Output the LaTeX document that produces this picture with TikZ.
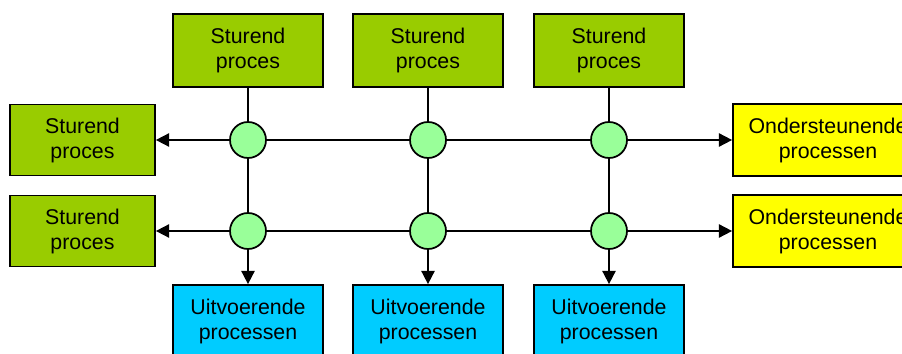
\documentclass[tikz,border=0pt]{standalone}
\usepackage{fontspec}
\setmainfont{Liberation Sans}
\usetikzlibrary{arrows.meta}

\definecolor{stuurgroen}{HTML}{99CC00}
\definecolor{steungeel}{HTML}{FFFF00}
\definecolor{uitvoerblauw}{HTML}{00CCFF}
\definecolor{knoopgroen}{HTML}{99FF99}

\tikzset{
  procbox/.style={draw, line width=1.3pt, align=center, inner sep=0pt,
    font=\fontsize{16}{18.75}\selectfont},
  sturend/.style={procbox, fill=stuurgroen, minimum width=112.5pt, minimum height=54.75pt},
  sturendzij/.style={procbox, fill=stuurgroen, minimum width=108.75pt, minimum height=53.25pt},
  steunend/.style={procbox, fill=steungeel, minimum width=142.5pt, minimum height=54pt},
  uitvoerend/.style={procbox, fill=uitvoerblauw, minimum width=112.5pt, minimum height=54.75pt},
  knoop/.style={circle, draw, line width=1.3pt, fill=knoopgroen, minimum size=27pt, inner sep=0pt},
}

\begin{document}
\begin{tikzpicture}[x=0.75pt,y=0.75pt,>={Triangle[length=10pt,width=10pt]}, line width=1.3pt]
  \clip (0,0) rectangle (902,353);
  \useasboundingbox (0,0) rectangle (902,353);

  % sturende processen boven
  \node[sturend] (s1) at (248,302.5) {Sturend\\proces};
  \node[sturend] (s2) at (428,302.5) {Sturend\\proces};
  \node[sturend, line width=2pt] (s3) at (609,302.5) {Sturend\\proces};

  % sturende processen links
  \node[sturendzij] (l1) at (82.5,213) {Sturend\\proces};
  \node[sturendzij] (l2) at (82.5,122) {Sturend\\proces};

  % ondersteunende processen rechts
  \node[steunend] (o1) at (828,213) {Ondersteunende\\processen};
  \node[steunend] (o2) at (828,122) {Ondersteunende\\processen};

  % uitvoerende processen onder
  \node[uitvoerend] (u1) at (248,31.5) {Uitvoerende\\processen};
  \node[uitvoerend] (u2) at (428,31.5) {Uitvoerende\\processen};
  \node[uitvoerend] (u3) at (609,31.5) {Uitvoerende\\processen};

  % knooppunten
  \foreach \i/\x in {1/248,2/428,3/609} {
    \node[knoop] (k1\i) at (\x,213) {};
    \node[knoop] (k2\i) at (\x,122) {};
  }

  % horizontale lijnen
  \draw[->] (k11) -- (l1);
  \draw (k11) -- (k12) -- (k13);
  \draw[->] (k13) -- (o1);
  \draw[->] (k21) -- (l2);
  \draw (k21) -- (k22) -- (k23);
  \draw[->] (k23) -- (o2);

  % verticale lijnen
  \foreach \i in {1,2,3} {
    \draw (s\i) -- (k1\i);
    \draw (k1\i) -- (k2\i);
    \draw[->] (k2\i) -- (u\i);
  }
\end{tikzpicture}
\end{document}
